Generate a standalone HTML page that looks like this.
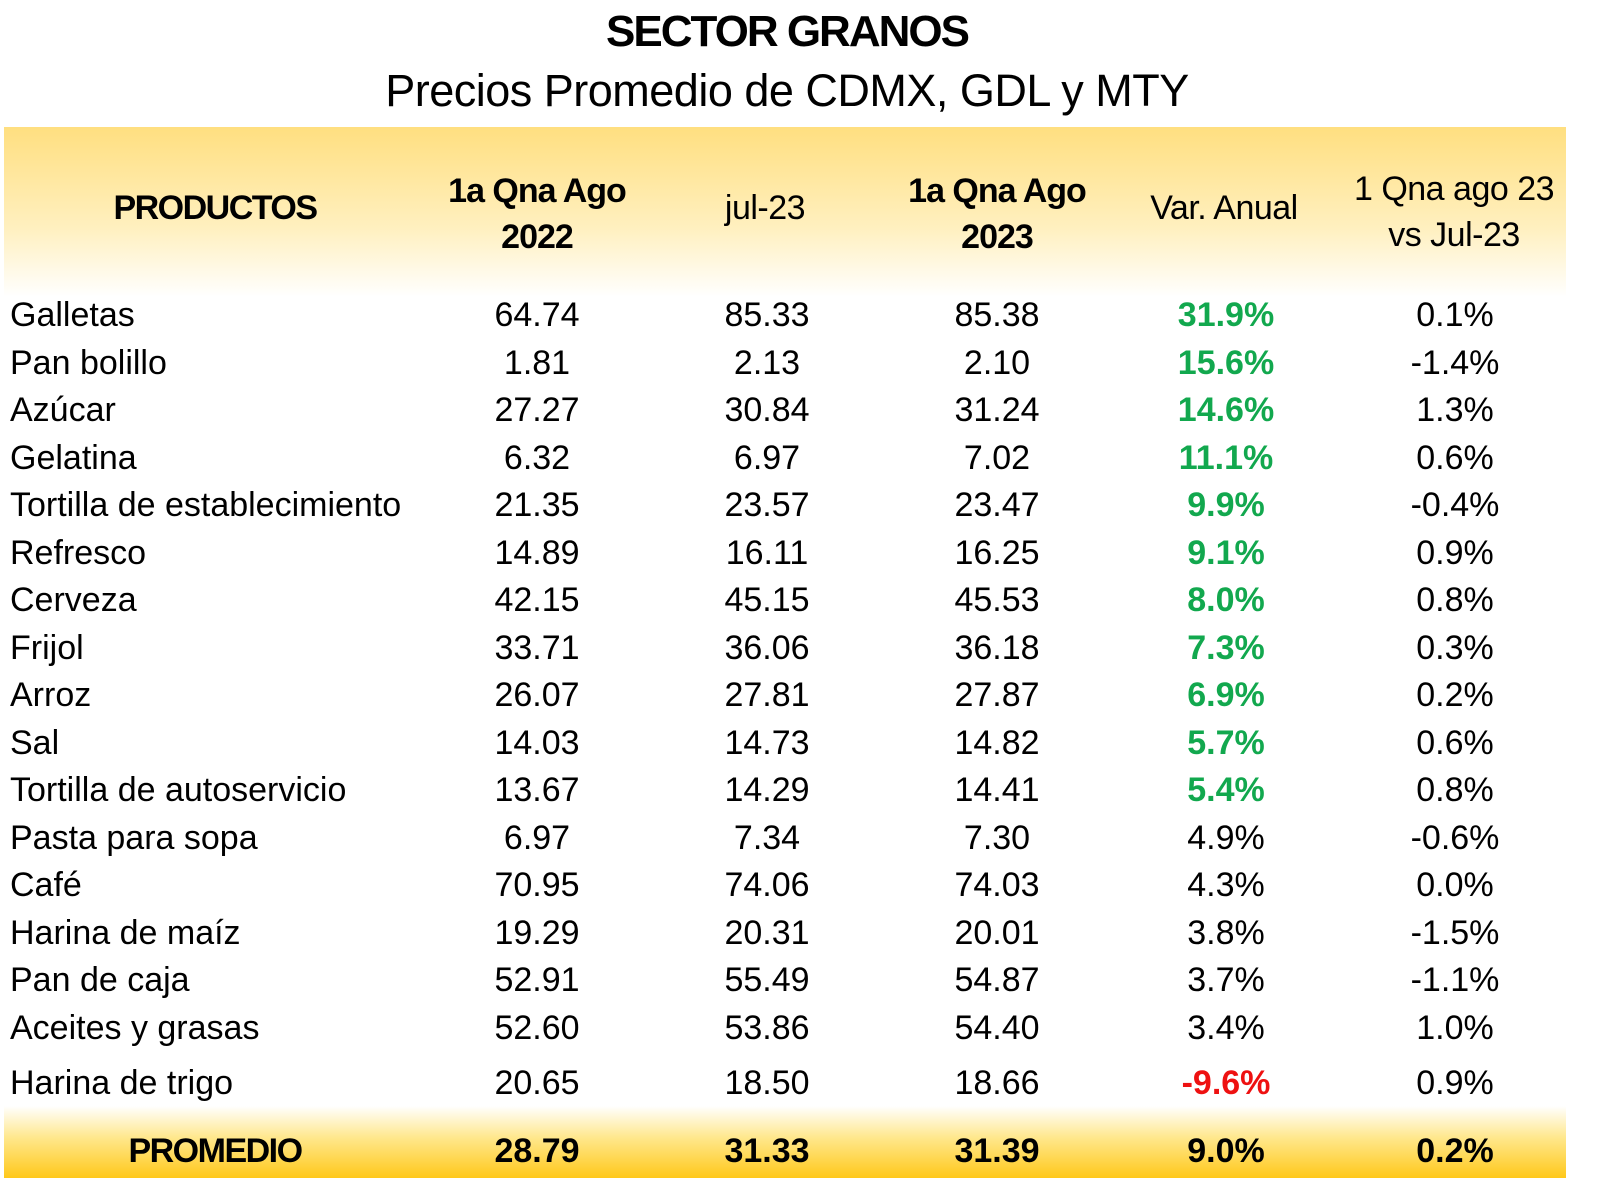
<!DOCTYPE html>
<html><head><meta charset="utf-8">
<style>
body{margin:0;width:1600px;height:1203px;background:#fff;position:relative;overflow:hidden;font-family:"Liberation Sans",sans-serif;color:#000}
.t{position:absolute;white-space:nowrap;line-height:1}
.c{transform:translateX(-50%)}
.r{font-size:34px;letter-spacing:0px}
#hdr{position:absolute;left:4px;top:127px;width:1562px;height:170px;background:linear-gradient(#ffdf80,#fff0c0 60%,#fff)}
#ftr{position:absolute;left:4px;top:1106px;width:1562px;height:72px;background:linear-gradient(#fff,#ffe78a 45%,#ffc81a)}
.h{font-size:34px;letter-spacing:-0.5px;text-align:center}
.b{font-weight:bold}
</style></head><body>
<div class="t c b" style="left:787px;top:10px;font-size:44px;letter-spacing:-2px">SECTOR GRANOS</div>
<div class="t c" style="left:787px;top:68px;font-size:45px;letter-spacing:-0.5px">Precios Promedio de CDMX, GDL y MTY</div>
<div id="hdr"></div>
<div id="ftr"></div>
<div class="t c h b" style="left:215px;top:191px;letter-spacing:-1.5px">PRODUCTOS</div>
<div class="t c h b" style="left:537px;top:168px;line-height:46px;letter-spacing:-1px">1a Qna Ago<br>2022</div>
<div class="t c h" style="left:765px;top:191px">jul-23</div>
<div class="t c h b" style="left:997px;top:168px;line-height:46px;letter-spacing:-1px">1a Qna Ago<br>2023</div>
<div class="t c h" style="left:1224px;top:191px">Var. Anual</div>
<div class="t c h" style="left:1454px;top:166px;line-height:46px">1 Qna ago 23<br>vs Jul-23</div>
<script>
const products=["Galletas","Pan bolillo","Azúcar","Gelatina","Tortilla de establecimiento","Refresco","Cerveza","Frijol","Arroz","Sal","Tortilla de autoservicio","Pasta para sopa","Café","Harina de maíz","Pan de caja","Aceites y grasas","Harina de trigo"];
const p2022=["64.74","1.81","27.27","6.32","21.35","14.89","42.15","33.71","26.07","14.03","13.67","6.97","70.95","19.29","52.91","52.60","20.65"];
const pjul=["85.33","2.13","30.84","6.97","23.57","16.11","45.15","36.06","27.81","14.73","14.29","7.34","74.06","20.31","55.49","53.86","18.50"];
const p2023=["85.38","2.10","31.24","7.02","23.47","16.25","45.53","36.18","27.87","14.82","14.41","7.30","74.03","20.01","54.87","54.40","18.66"];
const varAnual=[31.9,15.6,14.6,11.1,9.9,9.1,8.0,7.3,6.9,5.7,5.4,4.9,4.3,3.8,3.7,3.4,-9.6];
const varMes=[0.1,-1.4,1.3,0.6,-0.4,0.9,0.8,0.3,0.2,0.6,0.8,-0.6,0.0,-1.5,-1.1,1.0,0.9];
const promedio=["PROMEDIO","28.79","31.33","31.39","9.0%","0.2%"];
function add(txt,x,y,cls,name,style){
  const d=document.createElement('div');
  d.className='t r '+cls;
  d.textContent=txt;
  d.style.left=x+'px';d.style.top=y+'px';
  if(style)d.style.cssText+=style;
  
  
  document.body.appendChild(d);
}
const cx=[537,767,997,1226,1455];
products.forEach((p,i)=>{
  const y=(i<16?298+i*47.5:1066);
  add(p,10,y,'','product-name');
  add(p2022[i],cx[0],y,'c','price-2022');
  add(pjul[i],cx[1],y,'c','price-jul23');
  add(p2023[i],cx[2],y,'c','price-2023');
  const v=varAnual[i];
  let st='';
  if(v<0)st='color:#ee1111;font-weight:bold;';
  else if(v>=5)st='color:#12a84e;font-weight:bold;';
  add(v.toFixed(1)+'%',cx[3],y,'c','var-anual',st);
  add(varMes[i].toFixed(1)+'%',cx[4],y,'c','var-mensual');
});
add(promedio[0],215,1134,'c b','promedio-label','letter-spacing:-1.5px;');
for(let j=1;j<6;j++) add(promedio[j],cx[j-1],1134,'c b','promedio-value');
</script>
</body></html>
